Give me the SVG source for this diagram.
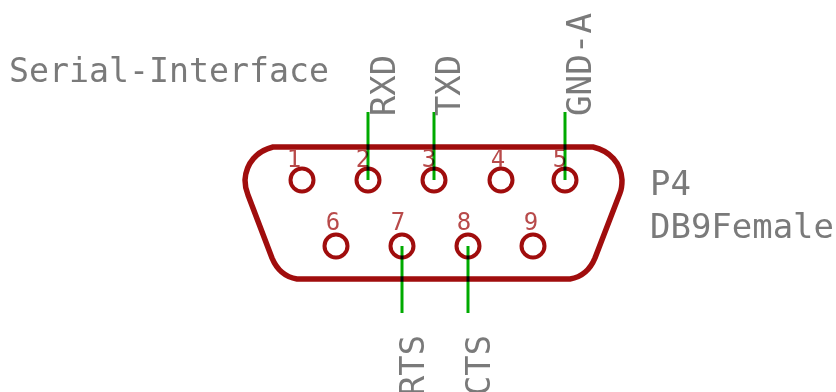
<svg xmlns="http://www.w3.org/2000/svg" width="836" height="392" viewBox="0 0 836 392">
<style>
text{font-family:"DejaVu Sans Mono","Liberation Mono",monospace}
.lbl{font-size:34px;fill:#7a7a7a}
.num{font-size:24px;fill:#b84a4a;text-anchor:middle}
.pad{fill:none;stroke:#a00d0d;stroke-width:4}
.body{fill:none;stroke:#a00d0d;stroke-width:5.5;stroke-linejoin:round}
.wire{fill:none;stroke:#00aa00;stroke-width:3;mix-blend-mode:multiply}
</style>
<rect width="836" height="392" fill="#fff"/>
<g id="connector-body">
<path class="body" d="M273 147H593C610 151 621 163 622 180Q622 188 620 193L595 258C590 270 582 277 570 279H297C285 277 277 270 272 258L248 195Q245 188 245 180C246 163 257 151 273 147Z"/>
</g>
<g id="pins">
<g id="pin1"><circle class="pad" cx="302" cy="180" r="11.5"/><text class="num" x="294" y="167">1</text></g>
<g id="pin2"><circle class="pad" cx="368" cy="180" r="11.5"/><text class="num" x="363" y="167">2</text></g>
<g id="pin3"><circle class="pad" cx="434" cy="180" r="11.5"/><text class="num" x="429" y="167">3</text></g>
<g id="pin4"><circle class="pad" cx="501" cy="180" r="11.5"/><text class="num" x="498" y="167">4</text></g>
<g id="pin5"><circle class="pad" cx="565" cy="180" r="11.5"/><text class="num" x="560" y="167">5</text></g>
<g id="pin6"><circle class="pad" cx="336" cy="246" r="11.5"/><text class="num" x="333" y="230">6</text></g>
<g id="pin7"><circle class="pad" cx="402" cy="246" r="11.5"/><text class="num" x="398" y="230">7</text></g>
<g id="pin8"><circle class="pad" cx="468" cy="246" r="11.5"/><text class="num" x="464" y="230">8</text></g>
<g id="pin9"><circle class="pad" cx="533" cy="246" r="11.5"/><text class="num" x="531" y="230">9</text></g>
</g>
<g id="connectors">
<path class="wire" d="M368 112V180"/>
<path class="wire" d="M434 112V180"/>
<path class="wire" d="M565 112V180"/>
<path class="wire" d="M402 246V313"/>
<path class="wire" d="M468 246V313"/>
</g>
<g id="labels">
<text class="lbl" x="9" y="82" textLength="320" lengthAdjust="spacingAndGlyphs">Serial-Interface</text>
<text class="lbl" x="650" y="195" textLength="41" lengthAdjust="spacingAndGlyphs">P4</text>
<text class="lbl" x="650" y="238" textLength="184" lengthAdjust="spacingAndGlyphs">DB9Female</text>
<text class="lbl" transform="translate(395 116) rotate(-90)" textLength="61" lengthAdjust="spacingAndGlyphs">RXD</text>
<text class="lbl" transform="translate(460 116) rotate(-90)" textLength="61" lengthAdjust="spacingAndGlyphs">TXD</text>
<text class="lbl" transform="translate(591 116) rotate(-90)" textLength="103" lengthAdjust="spacingAndGlyphs">GND-A</text>
<text class="lbl" transform="translate(424 396) rotate(-90)" textLength="61" lengthAdjust="spacingAndGlyphs">RTS</text>
<text class="lbl" transform="translate(490 396) rotate(-90)" textLength="61" lengthAdjust="spacingAndGlyphs">CTS</text>
</g>
</svg>
